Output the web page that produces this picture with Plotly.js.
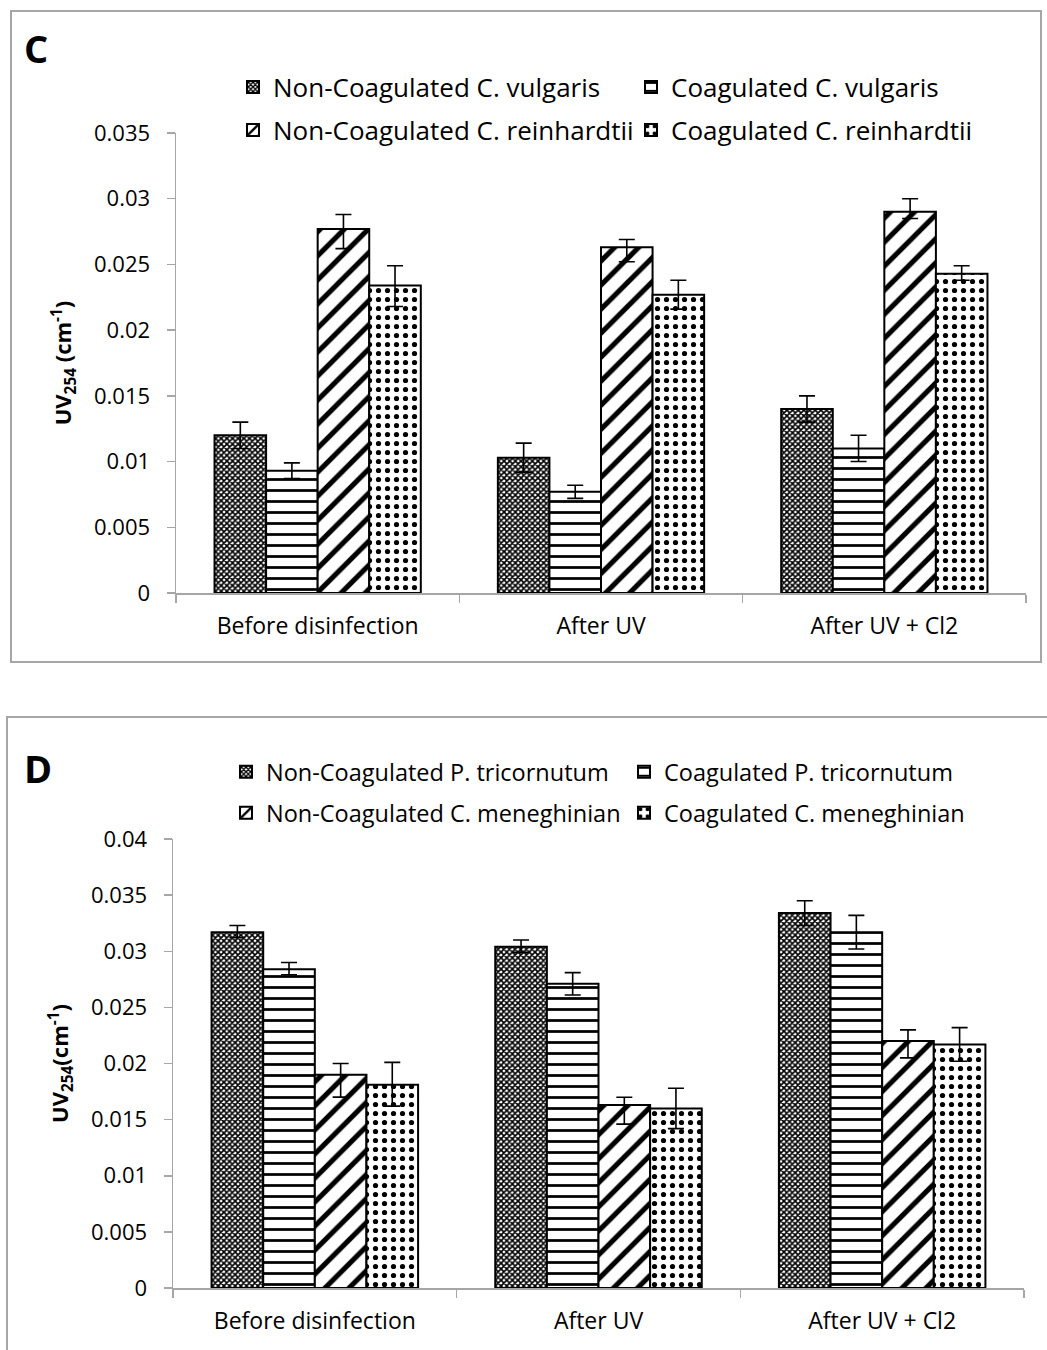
<!DOCTYPE html>
<html>
<head>
<meta charset="utf-8">
<script src="https://cdn.plot.ly/plotly-3.0.1.min.js"></script>
<style>
  body { margin: 0; background: #fff; width: 1047px; height: 1350px; overflow: hidden; position: relative; }
  .frame { position: absolute; border: 2px solid #a6a6a6; box-sizing: border-box; pointer-events: none; }
  #frameC { left: 10px; top: 10px; width: 1032px; height: 653px; }
  #frameD { left: 6px; top: 716px; width: 1060px; height: 700px; }
  #chartC { position: absolute; left: 0; top: 0; width: 1047px; height: 690px; }
  #chartD { position: absolute; left: 0; top: 700px; width: 1047px; height: 650px; }
</style>
</head>
<body>
<div id="frameC" class="frame"></div>
<div id="frameD" class="frame"></div>
<div id="chartC"></div>
<div id="chartD"></div>
<script>
// Disinfection stages on the x axis
const stages = ['Before disinfection', 'After UV', 'After UV + Cl2'];

// Panel C: green algae
const namesC = ['Non-Coagulated C. vulgaris', 'Coagulated C. vulgaris',
                'Non-Coagulated C. reinhardtii', 'Coagulated C. reinhardtii'];
const nonCoagVulgaris      = [0.0120, 0.0103, 0.0140];
const nonCoagVulgarisUp    = [0.0010, 0.0011, 0.0010];
const nonCoagVulgarisDown  = [0.0010, 0.0011, 0.0010];
const coagVulgaris         = [0.0093, 0.0077, 0.0110];
const coagVulgarisUp       = [0.0006, 0.0005, 0.0010];
const coagVulgarisDown     = [0.0006, 0.0005, 0.0010];
const nonCoagReinhardtii     = [0.0277, 0.0263, 0.0290];
const nonCoagReinhardtiiUp   = [0.0011, 0.0006, 0.0010];
const nonCoagReinhardtiiDown = [0.0015, 0.0011, 0.0005];
const coagReinhardtii      = [0.0234, 0.0227, 0.0243];
const coagReinhardtiiUp    = [0.0015, 0.0011, 0.0006];
const coagReinhardtiiDown  = [0.0016, 0.0011, 0.0005];
const ticksC      = [0, 0.005, 0.01, 0.015, 0.02, 0.025, 0.03, 0.035];
const tickLabelsC = ['0', '0.005', '0.01', '0.015', '0.02', '0.025', '0.03', '0.035'];

// Panel D: diatoms
const namesD = ['Non-Coagulated P. tricornutum', 'Coagulated P. tricornutum',
                'Non-Coagulated C. meneghinian', 'Coagulated C. meneghinian'];
const nonCoagTricornutum     = [0.0317, 0.0304, 0.0334];
const nonCoagTricornutumUp   = [0.0006, 0.0006, 0.0011];
const nonCoagTricornutumDown = [0.0005, 0.0005, 0.0011];
const coagTricornutum        = [0.0284, 0.0271, 0.0317];
const coagTricornutumUp      = [0.0006, 0.0010, 0.0015];
const coagTricornutumDown    = [0.0005, 0.0010, 0.0015];
const nonCoagMeneghinian     = [0.0190, 0.0163, 0.0220];
const nonCoagMeneghinianUp   = [0.0010, 0.0007, 0.0010];
const nonCoagMeneghinianDown = [0.0020, 0.0017, 0.0015];
const coagMeneghinian        = [0.0181, 0.0160, 0.0217];
const coagMeneghinianUp      = [0.0020, 0.0018, 0.0015];
const coagMeneghinianDown    = [0.0019, 0.0018, 0.0015];
const ticksD      = [0, 0.005, 0.01, 0.015, 0.02, 0.025, 0.03, 0.035, 0.04];
const tickLabelsD = ['0', '0.005', '0.01', '0.015', '0.02', '0.025', '0.03', '0.035', '0.04'];

// Black-and-white fill patterns, one per series position
const patterns = [
  { shape: 'x', size: 4,  solidity: 0.65, fgcolor: '#000', bgcolor: '#fff', fillmode: 'replace' },
  { shape: '-', size: 11, solidity: 0.25, fgcolor: '#000', bgcolor: '#fff', fillmode: 'replace' },
  { shape: '/', size: 17, solidity: 0.3,  fgcolor: '#000', bgcolor: '#fff', fillmode: 'replace' },
  { shape: '.', size: 9,  solidity: 0.26, fgcolor: '#000', bgcolor: '#fff', fillmode: 'replace' }
];

const FONT = '"Open Sans", Lato, sans-serif';

function barTrace(name, values, up, down, idx) {
  return {
    type: 'bar',
    name: name,
    x: stages,
    y: values,
    legend: idx < 2 ? 'legend' : 'legend2',
    marker: { color: '#fff', line: { color: '#000', width: 2 }, pattern: patterns[idx] },
    error_y: { type: 'data', symmetric: false, array: up, arrayminus: down,
               color: '#000', thickness: 1.6, width: 8 },
    hoverinfo: 'skip'
  };
}

function buildLayout(opts) {
  const h = opts.height;
  const legendCommon = {
    orientation: 'h', xref: 'container', yref: 'container',
    x: opts.legendX / 1047, xanchor: 'left', yanchor: 'middle',
    entrywidth: 353, entrywidthmode: 'pixels',
    font: { family: FONT, size: opts.legendSize, color: '#000' },
    bgcolor: 'rgba(0,0,0,0)', itemclick: false, itemdoubleclick: false
  };
  return {
    width: 1047, height: h,
    margin: Object.assign({ autoexpand: false }, opts.margin),
    paper_bgcolor: 'rgba(0,0,0,0)', plot_bgcolor: 'rgba(0,0,0,0)',
    font: { family: FONT, size: 22, color: '#000' },
    showlegend: true,
    barmode: 'group', bargap: 0.272, bargroupgap: 0,
    title: { text: opts.label, font: { family: FONT, size: 38, weight: 'bold', color: '#000' },
             xref: 'container', yref: 'container', x: 24 / 1047, xanchor: 'left',
             y: 1 - opts.labelY / h, yanchor: 'middle' },
    legend:  Object.assign({}, legendCommon, { y: 1 - opts.legendRows[0] / h }),
    legend2: Object.assign({}, legendCommon, { y: 1 - opts.legendRows[1] / h }),
    xaxis: {
      type: 'category', showline: true, linecolor: '#a6a6a6', linewidth: 1.5,
      ticks: 'outside', tickson: 'boundaries', ticklen: 8, tickcolor: '#a6a6a6', tickwidth: 1.5,
      ticklabelstandoff: 12, showgrid: false, zeroline: false,
      tickfont: { family: FONT, size: 23, color: '#000' }
    },
    yaxis: {
      range: [0, opts.yMax], showline: true, linecolor: '#a6a6a6', linewidth: 1.5,
      ticks: 'outside', ticklen: 8, tickcolor: '#a6a6a6', tickwidth: 1.5,
      tickvals: opts.ticks, ticktext: opts.tickLabels, ticklabelstandoff: 12,
      showgrid: false, zeroline: false,
      tickfont: { family: FONT, size: 22, color: '#000' },
      title: { text: opts.yTitle, standoff: 16,
               font: { family: FONT, size: 22, weight: 'bold', color: '#000' } }
    }
  };
}

const tracesC = [
  barTrace(namesC[0], nonCoagVulgaris, nonCoagVulgarisUp, nonCoagVulgarisDown, 0),
  barTrace(namesC[1], coagVulgaris, coagVulgarisUp, coagVulgarisDown, 1),
  barTrace(namesC[2], nonCoagReinhardtii, nonCoagReinhardtiiUp, nonCoagReinhardtiiDown, 2),
  barTrace(namesC[3], coagReinhardtii, coagReinhardtiiUp, coagReinhardtiiDown, 3)
];
const tracesD = [
  barTrace(namesD[0], nonCoagTricornutum, nonCoagTricornutumUp, nonCoagTricornutumDown, 0),
  barTrace(namesD[1], coagTricornutum, coagTricornutumUp, coagTricornutumDown, 1),
  barTrace(namesD[2], nonCoagMeneghinian, nonCoagMeneghinianUp, nonCoagMeneghinianDown, 2),
  barTrace(namesD[3], coagMeneghinian, coagMeneghinianUp, coagMeneghinianDown, 3)
];

const layoutC = buildLayout({
  label: 'C', ticks: ticksC, tickLabels: tickLabelsC, yMax: 0.035,
  yTitle: 'UV<sub>254</sub> (cm<sup>-1</sup>)', height: 690,
  margin: { l: 176, r: 21, t: 132.7, b: 96.7, pad: 0 },
  legendRows: [87, 130], labelY: 50, legendX: 233, legendSize: 26
});
const layoutD = buildLayout({
  label: 'D', ticks: ticksD, tickLabels: tickLabelsD, yMax: 0.04,
  yTitle: 'UV<sub>254</sub>(cm<sup>-1</sup>)', height: 650,
  margin: { l: 172.7, r: 23.3, t: 139.3, b: 61.7, pad: 0 },
  legendRows: [72, 113], labelY: 70, legendX: 226, legendSize: 23.5
});

const config = { staticPlot: true, displayModeBar: false };
Plotly.newPlot('chartC', tracesC, layoutC, config);
Plotly.newPlot('chartD', tracesD, layoutD, config);
</script>
</body>
</html>
